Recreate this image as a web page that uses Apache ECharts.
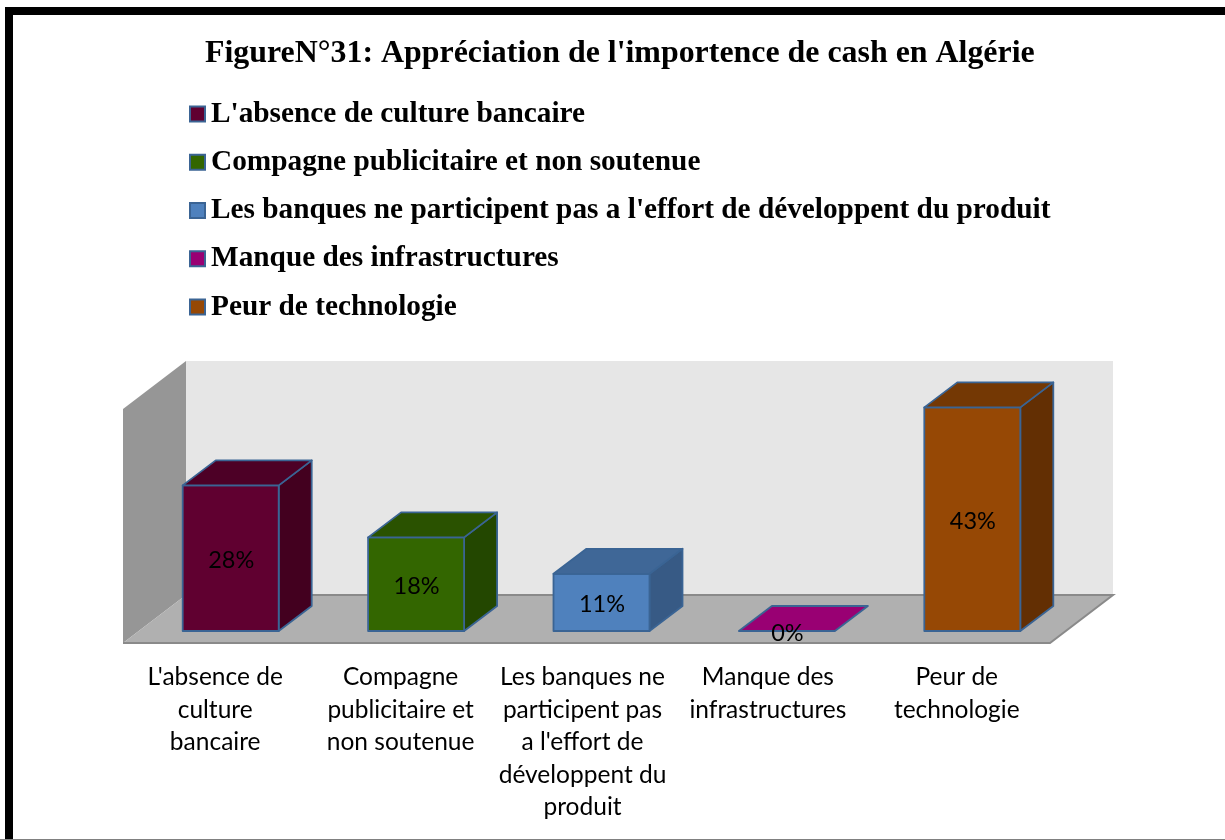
<!DOCTYPE html>
<html><head><meta charset="utf-8">
<style>html,body{margin:0;padding:0;background:#fff;overflow:hidden}#c{width:1225px;height:840px}</style>
<script src="https://cdn.jsdelivr.net/npm/echarts@6/dist/echarts.min.js"></script>
</head><body><div id="c"></div>
<script>
const titleText = "FigureN°31: Appréciation de l'importence de cash en Algérie";
const categories = ["L'absence de culture bancaire","Compagne publicitaire et non soutenue","Les banques ne participent pas a l'effort de développent du produit","Manque des infrastructures","Peur de technologie"];
const axisLabels = ["L'absence de\nculture\nbancaire","Compagne\npublicitaire et\nnon soutenue","Les banques ne\nparticipent pas\na l'effort de\ndéveloppent du\nproduit","Manque des\ninfrastructures","Peur de\ntechnologie"];
const values = [28,18,11,0,43];
const frontColors = ['#600030','#336600','#4f81bd','#990073','#964805'];
const topColors = ['#4d0026','#2a5200','#3f6797','#990073','#743804'];
const sideColors = ['#43001f','#234700','#375a85','#990073','#632f03'];
const edge = '#3a6494';
const depthX=63, depthY=48, barOffX=15, barOffY=12, barDX=33, barDY=25, barW=96;

function poly(points,fill,stroke,lw){
  return {type:'polygon',shape:{points},style:{fill,stroke:stroke||null,lineWidth:lw||0,lineJoin:'round'}};
}
const wallSeries = {
  type:'custom',coordinateSystem:'cartesian2d',silent:true,z:1,clip:false,
  data:[[0,0]],
  renderItem(params,api){
    const g=params.coordSys;
    const x0=g.x,x1=g.x+g.width,yB=g.y+g.height,yT=g.y;
    return {type:'group',children:[
      poly([[x0+depthX,yT-depthY],[x1+depthX,yT-depthY],[x1+depthX,yB-depthY],[x0+depthX,yB-depthY]],'#e6e6e6'),
      poly([[x0,yT],[x0+depthX,yT-depthY],[x0+depthX,yB-depthY],[x0,yB]],'#969696'),
      poly([[x0,yB],[x0+depthX,yB-depthY],[x1+depthX,yB-depthY],[x1,yB]],'#b0b0b0'),
      {type:'polyline',shape:{points:[[x0+depthX,yB-depthY],[x1+depthX,yB-depthY],[x1,yB],[x0,yB]]},style:{fill:null,stroke:'#8a8a8a',lineWidth:2}}
    ]};
  }
};
function barSeries(i){
  return {
    name:categories[i],type:'custom',coordinateSystem:'cartesian2d',z:2,clip:false,
    itemStyle:{color:frontColors[i],borderColor:edge,borderWidth:2},
    data:[[i,values[i]]],
    renderItem(params,api){
      const base=api.coord([api.value(0),0]);
      const top=api.coord([api.value(0),api.value(1)]);
      const cx=base[0]+barOffX;
      const l=cx-barW/2,r=cx+barW/2,b=base[1]-barOffY,t=top[1]-barOffY;
      const ch=[];
      if(b-t>0){
        ch.push(poly([[r,t],[r+barDX,t-barDY],[r+barDX,b-barDY],[r,b]],sideColors[i],edge,1.8));
        ch.push(poly([[l,t],[r,t],[r,b],[l,b]],frontColors[i],edge,1.8));
      }
      ch.push(poly([[l,t],[l+barDX,t-barDY],[r+barDX,t-barDY],[r,t]],topColors[i],edge,1.8));
      ch.push({type:'text',z2:10,style:{text:values[i]+'%',x:cx+0.5,y:(t+b)/2+2,align:'center',verticalAlign:'middle',fill:'#000',font:'23.5px Lato, "Open Sans", sans-serif'}});
      return {type:'group',children:ch};
    }
  };
}
const chart=echarts.init(document.getElementById('c'),null,{renderer:'canvas'});
chart.setOption({
  animation:false,backgroundColor:'#fff',
  title:{text:titleText,top:33,left:200,textStyle:{fontFamily:'"Liberation Serif"',fontWeight:'bold',fontSize:31.9,color:'#000'}},
  legend:{orient:'vertical',left:189,top:99,padding:0,itemWidth:15,itemHeight:15,itemGap:18.25,icon:'rect',
    data:categories,selectedMode:false,
    itemStyle:{borderColor:'#3b6494',borderWidth:2},
    textStyle:{fontFamily:'"Liberation Serif"',fontWeight:'bold',fontSize:29.3,lineHeight:30,color:'#000',padding:[0,0,0,1]}},
  grid:{left:123,top:409,width:927,height:234,containLabel:false},
  xAxis:{type:'category',
    data:categories.map((c,i)=>({value:c,textStyle:{padding:[0,(i===2||i===3)?8:1,0,0]}})),
    axisLine:{show:false},axisTick:{show:false},splitLine:{show:false},
    axisLabel:{interval:0,margin:18,lineHeight:32.5,fontFamily:'Lato, "Open Sans", sans-serif',fontSize:24.5,color:'#000',
      verticalAlign:'top',formatter:(v,i)=>axisLabels[i]}},
  yAxis:{type:'value',min:0,max:45,interval:5,show:false},
  graphic:[{type:'rect',z:100,shape:{x:9,y:11,width:1300,height:1000},style:{fill:null,stroke:'#000',lineWidth:8}},
    {type:'rect',z:101,shape:{x:0,y:839,width:1225,height:1},style:{fill:'#808080'}}],
  series:[wallSeries,...values.map((_,i)=>barSeries(i))]
});
</script></body></html>
